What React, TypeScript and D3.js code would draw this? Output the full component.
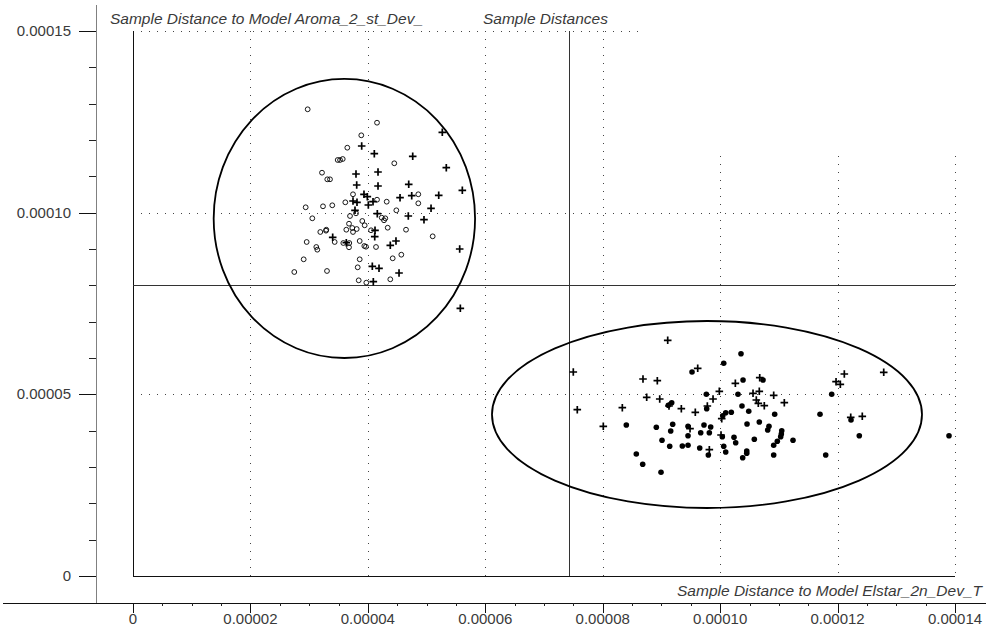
import React from "react";
import * as d3 from "d3";

// ---- data (values in data units) ----
const xTickValues = [0, 0.00002, 0.00004, 0.00006, 0.00008, 0.0001, 0.00012, 0.00014];
const xTickLabels = ["0", "0.00002", "0.00004", "0.00006", "0.00008", "0.00010", "0.00012", "0.00014"];
const yTickValues = [0, 0.00005, 0.0001, 0.00015];
const yTickLabels = ["0", "0.00005", "0.00010", "0.00015"];

const titleLeft = "Sample Distance to Model Aroma_2_st_Dev_";
const titleCenter = "Sample Distances";
const titleBottom = "Sample Distance to Model Elstar_2n_Dev_T";

const thresholdX = 74.31e-6;
const thresholdY = 80.01e-6;

// ellipses: [cx, cy, rx, ry]
const ellipseAroma = [36.0e-6, 98.4e-6, 22.26e-6, 38.4e-6];
const ellipseElstar = [97.76e-6, 44.45e-6, 36.62e-6, 25.73e-6];

// open circles (Aroma class) [x(1e-6), y(1e-6)]
const aromaPoints: [number, number][] = [
  [29.75, 128.45], [41.56, 124.76], [38.88, 121.29], [36.5, 117.88], [34.86, 114.5], [35.26, 114.5],
  [35.72, 114.77], [44.5, 113.59], [32.19, 111.0], [33.09, 109.18], [33.55, 109.18], [37.47, 105.06],
  [48.59, 105.06], [29.41, 101.48], [32.36, 101.75], [33.94, 102.03], [36.16, 102.85], [41.56, 103.57],
  [43.21, 103.02], [48.59, 102.58], [44.85, 100.65], [37.98, 99.82], [30.54, 98.45], [36.96, 99.08],
  [42.36, 98.62], [42.97, 98.45], [42.75, 97.9], [39.05, 97.71], [39.46, 96.52], [36.79, 96.96],
  [37.35, 95.78], [38.1, 95.5], [36.33, 95.31], [37.47, 94.68], [32.92, 95.31], [32.87, 95.04],
  [31.9, 94.68], [40.54, 95.15], [43.38, 95.86], [46.5, 95.31], [51.04, 93.49], [29.58, 91.93],
  [34.35, 91.93], [35.82, 91.65], [36.84, 91.65], [36.79, 90.47], [38.61, 92.2], [39.4, 90.83],
  [39.68, 90.63], [41.39, 90.55], [31.22, 90.55], [31.39, 89.81], [45.7, 88.43], [44.23, 87.44],
  [29.07, 87.16], [38.61, 87.16], [38.27, 84.96], [33.04, 83.95], [27.47, 83.67], [38.44, 81.38],
  [39.74, 80.73], [43.82, 81.66],
];

// filled dots (Elstar class)
const elstarPoints: [number, number][] = [
  [103.55, 61.18], [100.61, 58.54], [95.21, 56.15], [107.3, 53.94], [103.9, 53.94], [97.65, 50.01],
  [103.04, 50.01], [91.75, 47.7], [91.17, 46.98], [97.71, 46.05], [103.72, 46.79], [100.95, 44.95],
  [101.9, 45.05], [100.44, 44.12], [104.87, 45.33], [109.29, 44.5], [84.02, 41.56], [89.13, 40.93],
  [91.92, 41.75], [91.58, 39.91], [94.53, 41.2], [94.53, 38.61], [97.25, 41.56], [98.39, 41.01],
  [96.69, 39.44], [98.16, 39.44], [104.58, 41.83], [106.67, 42.39], [108.32, 41.2], [108.1, 40.18],
  [100.37, 38.34], [102.36, 38.17], [102.65, 36.69], [105.82, 37.62], [90.1, 37.35], [91.41, 35.7],
  [93.56, 35.78], [94.53, 35.97], [96.52, 35.23], [100.61, 35.7], [100.95, 34.13], [97.99, 33.3],
  [104.53, 34.4], [104.53, 33.77], [103.84, 32.56], [109.12, 35.97], [109.12, 33.3], [109.74, 37.07],
  [85.72, 33.58], [86.81, 30.74], [89.93, 28.54], [119.0, 50.01], [117.01, 44.5], [122.29, 42.94],
  [110.49, 39.99], [110.42, 39.08], [110.31, 38.34], [112.41, 37.35], [117.98, 33.3], [123.7, 38.61],
  [138.98, 38.61],
];

// plus markers (test samples)
const testPoints: [number, number][] = [
  [52.68, 122.12], [38.95, 118.35], [41.1, 116.23], [47.64, 115.51], [53.36, 112.38], [37.98, 110.64],
  [41.73, 111.19], [38.1, 107.62], [41.73, 107.34], [46.96, 107.81], [56.09, 106.16], [39.34, 105.06],
  [39.91, 104.39], [45.48, 104.12], [47.47, 104.67], [52.07, 104.78], [37.47, 103.21], [38.15, 102.85],
  [40.88, 103.02], [40.08, 102.11], [50.76, 101.2], [37.81, 100.65], [41.61, 99.71], [46.89, 99.08],
  [49.56, 98.06], [41.22, 95.15], [41.17, 93.39], [34.01, 93.22], [36.33, 91.74], [44.79, 92.2],
  [43.82, 91.02], [55.64, 90.0], [40.76, 85.24], [41.9, 84.69], [45.31, 83.39], [40.93, 81.0],
  [55.75, 73.68],
  [91.07, 64.87], [74.99, 56.15], [96.18, 57.17], [86.86, 54.22], [89.3, 53.75], [106.74, 54.58],
  [102.59, 53.04], [99.86, 50.83], [105.6, 50.28], [106.67, 50.83], [109.12, 49.73], [87.49, 49.18],
  [89.71, 48.72], [98.79, 48.72], [106.16, 48.44], [106.5, 47.53], [107.52, 46.87], [75.67, 45.77],
  [83.34, 46.32], [93.39, 46.05], [95.77, 45.05], [97.82, 46.79], [91.29, 46.79], [100.27, 43.29],
  [80.1, 41.2], [94.87, 40.54], [100.15, 38.81], [98.16, 34.76], [121.15, 55.6], [127.86, 56.06],
  [119.74, 53.48], [120.47, 52.76], [110.93, 47.7], [122.24, 43.68], [124.21, 43.95],
];

const W = 986;
const H = 628;
const FONT = "'Liberation Sans', Arial, sans-serif";
const TEXT = "#3a3a3a";

export default function App() {
  const x = d3.scaleLinear().domain([0, 0.00014]).range([133, 955]);
  const y = d3.scaleLinear().domain([0, 0.00015]).range([576, 31]);
  const u = 1e-6;

  const xMinor = d3.range(0, 0.00014 + 1e-12, 0.000005);
  const yMinor = d3.range(0, 0.00015 + 1e-12, 0.00001);

  const axisX = 96;
  const axisY = 603;
  const gridTopLate = 156;

  const plusPath = "M-3.8,0H3.8M0,-3.8V3.8";

  const ell = (e: number[]) => (
    <ellipse
      cx={x(e[0])}
      cy={y(e[1])}
      rx={x(e[0] + e[2]) - x(e[0])}
      ry={y(e[1]) - y(e[1] + e[3])}
      fill="none"
      stroke="#000"
      strokeWidth={1.8}
    />
  );

  return (
    <svg
      width={W}
      height={H}
      style={{ position: "absolute", left: 0, top: 0, background: "#fff" }}
      fontFamily={FONT}
    >
      <rect width={W} height={H} fill="#fff" />

      {/* grid */}
      <g stroke="#444" strokeWidth={1} strokeDasharray="1,7" fill="none">
        {xTickValues.slice(1).map((v) => (
          <line
            key={"gx" + v}
            x1={Math.round(x(v)) + 0.5}
            x2={Math.round(x(v)) + 0.5}
            y1={v >= 0.0001 - 1e-12 ? gridTopLate : y(0.00015)}
            y2={y(0)}
          />
        ))}
        {yTickValues.slice(1).map((v) => (
          <line
            key={"gy" + v}
            x1={x(0)}
            x2={v >= 0.00015 - 1e-12 ? 642 : x(0.00014)}
            y1={Math.round(y(v)) + 0.5}
            y2={Math.round(y(v)) + 0.5}
          />
        ))}
      </g>

      {/* plot frame */}
      <line x1={x(0) + 0.5} x2={x(0) + 0.5} y1={y(0.00015)} y2={y(0) + 0.5} stroke="#111" />
      <line x1={x(0)} x2={x(0.00014)} y1={y(0) + 0.5} y2={y(0) + 0.5} stroke="#111" />

      {/* thresholds */}
      <line x1={Math.round(x(thresholdX)) + 0.5} x2={Math.round(x(thresholdX)) + 0.5} y1={y(0.00015)} y2={y(0)} stroke="#333" />
      <line x1={x(0)} x2={x(0.00014)} y1={Math.round(y(thresholdY)) + 0.5} y2={Math.round(y(thresholdY)) + 0.5} stroke="#333" />

      {/* ellipses */}
      {ell(ellipseAroma)}
      {ell(ellipseElstar)}

      {/* points */}
      <g fill="none" stroke="#000" strokeWidth={0.9}>
        {aromaPoints.map((p, i) => (
          <circle key={"a" + i} cx={x(p[0] * u)} cy={y(p[1] * u)} r={2.4} />
        ))}
      </g>
      <g fill="#000">
        {elstarPoints.map((p, i) => (
          <circle key={"e" + i} cx={x(p[0] * u)} cy={y(p[1] * u)} r={2.8} />
        ))}
      </g>
      <g stroke="#000" strokeWidth={1.7} fill="none">
        {testPoints.map((p, i) => (
          <path key={"t" + i} d={plusPath} transform={`translate(${x(p[0] * u)},${y(p[1] * u)})`} />
        ))}
      </g>

      {/* y axis */}
      <line x1={axisX + 0.5} x2={axisX + 0.5} y1={5} y2={axisY} stroke="#808080" />
      {yMinor.map((v, i) => (
        <line key={"ym" + i} x1={89} x2={axisX} y1={Math.round(y(v)) + 0.5} y2={Math.round(y(v)) + 0.5} stroke="#222" />
      ))}
      {yTickValues.map((v, i) => (
        <g key={"yt" + i}>
          <line x1={79} x2={axisX} y1={Math.round(y(v)) + 0.5} y2={Math.round(y(v)) + 0.5} stroke="#111" />
          <text x={71} y={y(v) + 5} textAnchor="end" fontSize={15} fill={TEXT}>
            {yTickLabels[i]}
          </text>
        </g>
      ))}

      {/* x axis */}
      <line x1={3} x2={W} y1={axisY + 0.5} y2={axisY + 0.5} stroke="#111" />
      {xMinor.map((v, i) => (
        <line key={"xm" + i} x1={Math.round(x(v)) + 0.5} x2={Math.round(x(v)) + 0.5} y1={axisY} y2={axisY + 3} stroke="#222" />
      ))}
      {xTickValues.map((v, i) => (
        <g key={"xt" + i}>
          <line x1={Math.round(x(v)) + 0.5} x2={Math.round(x(v)) + 0.5} y1={axisY} y2={axisY + 10} stroke="#111" />
          <text x={x(v)} y={624} textAnchor="middle" fontSize={15} fill={TEXT}>
            {xTickLabels[i]}
          </text>
        </g>
      ))}

      {/* titles */}
      <text x={110} y={24} fontSize={15.5} fontStyle="italic" fill={TEXT}>
        {titleLeft}
      </text>
      <text x={483} y={24} fontSize={15.5} fontStyle="italic" fill={TEXT}>
        {titleCenter}
      </text>
      <text x={982} y={596} textAnchor="end" fontSize={15.5} fontStyle="italic" fill={TEXT}>
        {titleBottom}
      </text>
    </svg>
  );
}
